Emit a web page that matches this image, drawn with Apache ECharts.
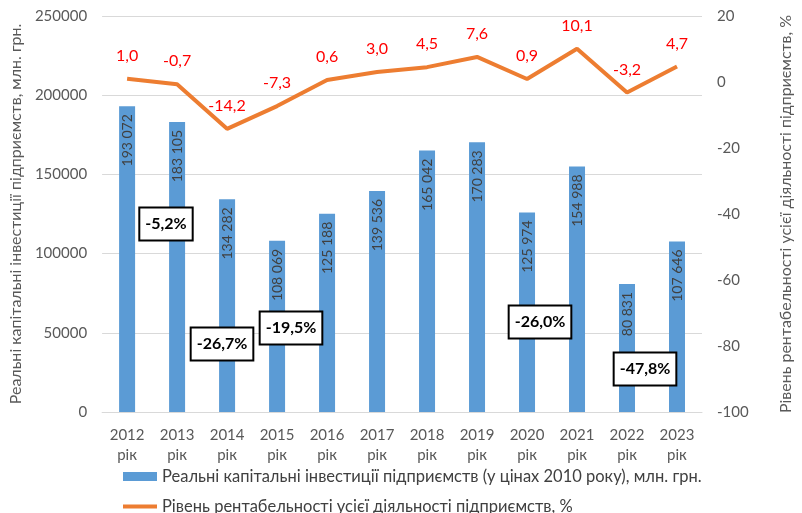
<!DOCTYPE html>
<html>
<head>
<meta charset="utf-8">
<script src="https://cdn.jsdelivr.net/npm/echarts@6/dist/echarts.min.js"></script>
<style>
  html, body { margin: 0; padding: 0; background: #fff; }
  #chart { width: 802px; height: 513px; }
</style>
</head>
<body>
<div id="chart"></div>
<script>
  // дані
  const years = ['2012', '2013', '2014', '2015', '2016', '2017', '2018', '2019', '2020', '2021', '2022', '2023'];
  const investments = [193072, 183105, 134282, 108069, 125188, 139536, 165042, 170283, 125974, 154988, 80831, 107646];
  const profitability = [1.0, -0.7, -14.2, -7.3, 0.6, 3.0, 4.5, 7.6, 0.9, 10.1, -3.2, 4.7];
  const changeNotes = ['-5,2%', '-26,7%', '-19,5%', '-26,0%', '-47,8%'];
  const notePos = [[166, 224], [222, 344], [291, 328], [540, 322], [645, 369]];

  const font = 'Lato, "Noto Sans", sans-serif';
  const chart = echarts.init(document.getElementById('chart'));

  function fmtThousands(v) {
    return String(v).replace(/\B(?=(\d{3})+(?!\d))/g, ' ');
  }

  // рамки з відсотками
  const notes = changeNotes.map((t, i) => ({
    type: 'text',
    x: notePos[i][0],
    y: notePos[i][1],
    style: {
      text: t,
      font: 'bold 16px ' + font,
      fill: '#000',
      align: 'center',
      verticalAlign: 'middle',
      backgroundColor: '#fff',
      borderColor: '#000',
      borderWidth: 2,
      padding: [8, 5, 7, 5]
    },
    z: 100
  }));

  const option = {
    animation: false,
    textStyle: { fontFamily: font },
    grid: { left: 96, right: 78, top: 16, bottom: 101 },
    legend: {
      orient: 'vertical',
      left: 123,
      top: 468,
      padding: 0,
      height: 60,
      itemWidth: 34,
      itemHeight: 9,
      itemGap: 13,
      textStyle: { fontSize: 16.5, color: '#404040', fontFamily: font },
      data: [
        { name: 'Реальні капітальні інвестиції підприємств (у цінах 2010 року), млн. грн.', icon: 'rect' },
        { name: 'Рівень рентабельності усієї діяльності підприємств, %', icon: 'path://M0,0 L34,0 L34,4 L0,4 Z', itemStyle: { color: '#ed7d31' } }
      ]
    },
    xAxis: {
      type: 'category',
      data: years,
      axisLine: { lineStyle: { color: '#d9d9d9', width: 1 } },
      axisTick: { show: false },
      axisLabel: {
        color: '#595959',
        fontSize: 15,
        lineHeight: 20,
        margin: 13,
        formatter: v => v + '\nрік'
      }
    },
    yAxis: [
      {
        type: 'value',
        min: 0, max: 250000, interval: 50000,
        name: 'Реальні капітальні інвестиції підприємств, млн. грн.',
        nameLocation: 'middle',
        nameRotate: 90,
        nameGap: 76,
        nameTextStyle: { color: '#595959', fontSize: 16 },
        axisLine: { show: false },
        axisTick: { show: false },
        axisLabel: { color: '#595959', fontSize: 15, margin: 15, formatter: v => String(v) },
        splitLine: { lineStyle: { color: '#d9d9d9' } }
      },
      {
        type: 'value',
        min: -100, max: 20, interval: 20,
        name: 'Рівень рентабельності усієї діяльності підприємств, %',
        nameLocation: 'middle',
        nameRotate: 90,
        nameGap: 76,
        nameTextStyle: { color: '#595959', fontSize: 16 },
        axisLine: { show: false },
        axisTick: { show: false },
        axisLabel: { color: '#595959', fontSize: 15, margin: 15 },
        splitLine: { show: false }
      }
    ],
    series: [
      {
        name: 'Реальні капітальні інвестиції підприємств (у цінах 2010 року), млн. грн.',
        type: 'bar',
        data: investments,
        barWidth: 16,
        itemStyle: { color: '#5b9bd5' },
        label: {
          show: true,
          position: 'insideTop',
          rotate: 90,
          align: 'right',
          verticalAlign: 'middle',
          distance: 8,
          color: '#404040',
          fontSize: 14,
          formatter: p => fmtThousands(p.value)
        }
      },
      {
        name: 'Рівень рентабельності усієї діяльності підприємств, %',
        type: 'line',
        yAxisIndex: 1,
        data: profitability,
        symbol: 'circle',
        symbolSize: 0,
        lineStyle: { color: '#ed7d31', width: 4 },
        itemStyle: { color: '#ed7d31' },
        label: {
          show: true,
          position: 'top',
          distance: 15,
          color: '#ff0000',
          fontSize: 16,
          formatter: p => p.value.toFixed(1).replace('.', ',')
        },
        z: 5
      }
    ],
    graphic: notes
  };

  chart.setOption(option);
</script>
</body>
</html>
